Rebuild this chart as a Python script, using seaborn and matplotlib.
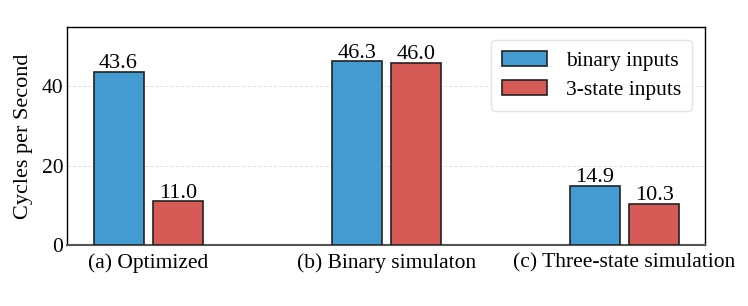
import matplotlib
matplotlib.use("Agg")
import matplotlib.pyplot as plt
import seaborn as sns
import pandas as pd

groups = ["(a) Optimized", "(b) Binary simulaton", "(c) Three-state simulation"]
binary_vals = [43.6, 46.3, 14.9]
three_state_vals = [11.0, 46.0, 10.3]
series_names = ["binary inputs", "3-state inputs"]
colors = ["#439bd1", "#d65a55"]

df = pd.DataFrame({
    "group": groups * 2,
    "value": binary_vals + three_state_vals,
    "series": [series_names[0]] * 3 + [series_names[1]] * 3,
})

sns.set_style("white")
plt.rcParams["font.family"] = ["Liberation Serif", "DejaVu Serif"]
plt.rcParams["text.color"] = "black"
plt.rcParams["axes.labelcolor"] = "black"
plt.rcParams["xtick.color"] = "black"
plt.rcParams["ytick.color"] = "black"

fig, ax = plt.subplots(figsize=(7.48, 3.06), dpi=100)
sns.barplot(data=df, x="group", y="value", hue="series", palette=colors,
            width=0.5, gap=0.16, edgecolor="#222222", linewidth=1.2,
            saturation=1, ax=ax, zorder=3)

for cont in ax.containers:
    ax.bar_label(cont, fmt="%.1f", fontsize=16, padding=-1)

ax.set_ylim(0, 55)
ax.set_xlim(-0.34, 2.34)
ax.set_yticks([0, 20, 40])
ax.yaxis.grid(True, linestyle="--", color="#e3e3e3", linewidth=0.7, zorder=0)
ax.set_xlabel("")
ax.set_ylabel("Cycles per Second", fontsize=16, labelpad=6)
ax.tick_params(axis="both", labelsize=15.5)
ax.tick_params(axis="x", length=4, width=1, color="#555555", pad=2)
ax.tick_params(axis="y", length=0, pad=3)
for s in ["top", "left", "right"]:
    ax.spines[s].set_color("black")
    ax.spines[s].set_linewidth(1)
ax.spines["bottom"].set_color("#555555")
ax.spines["bottom"].set_linewidth(1.5)

leg = ax.legend(loc="upper right", fontsize=15.5, frameon=True, fancybox=True,
                handlelength=2.1, handleheight=0.7, handletextpad=0.9,
                borderpad=0.5, labelspacing=0.42, borderaxespad=0.6)
leg.get_frame().set_edgecolor("#dddddd")

plt.subplots_adjust(left=0.09, right=0.943, top=0.912, bottom=0.2)
plt.savefig("out.png", dpi=100)
plt.close()
